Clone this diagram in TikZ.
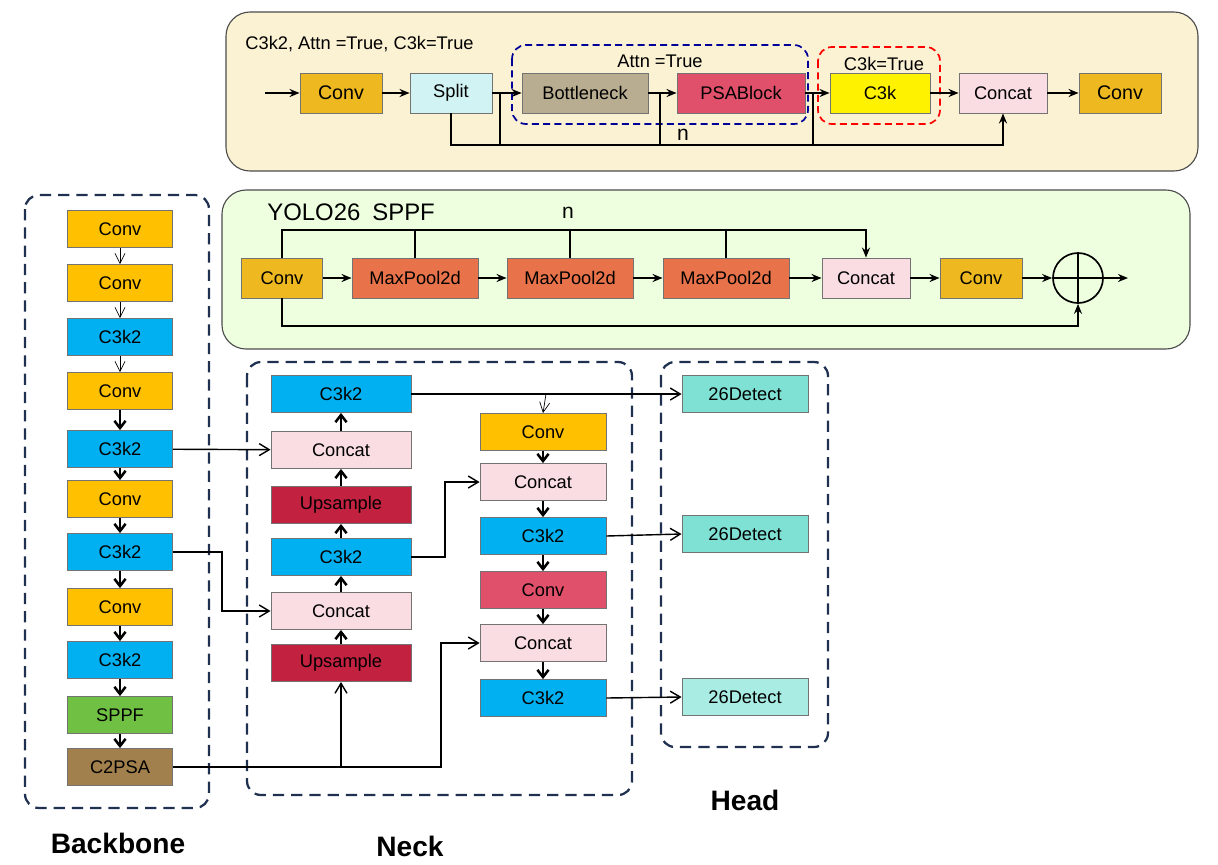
\documentclass[tikz,border=0pt]{standalone}
\usepackage{fontspec}
\setmainfont{Liberation Sans}
\usetikzlibrary{arrows.meta,positioning,calc}
\definecolor{cconv}{HTML}{FFC000}
\definecolor{cck}{HTML}{00B0F0}
\definecolor{ccat}{HTML}{F9DDE2}
\definecolor{cups}{HTML}{C32140}
\definecolor{cred}{HTML}{E0506A}
\definecolor{csppf}{HTML}{70C043}
\definecolor{cpsa}{HTML}{A2804E}
\definecolor{cdet}{HTML}{7FE0D4}
\definecolor{cdetl}{HTML}{A9ECE3}
\definecolor{cgold}{HTML}{EDB820}
\definecolor{cpool}{HTML}{E8734A}
\definecolor{cbott}{HTML}{B9AD91}
\definecolor{csplit}{HTML}{D2F3F3}
\definecolor{cdash}{HTML}{1F3050}
\begin{document}
\begin{tikzpicture}
[x=0.025cm, y=-0.025cm, font=\fontsize{13}{15}\selectfont, line width=1pt,
blk/.style={rectangle, draw=black!55, line width=0.6pt, inner sep=0pt, minimum height=0.925cm},
bb/.style={blk, minimum width=2.625cm},
nk/.style={blk, minimum width=3.5cm},
nr/.style={blk, minimum width=3.15cm},
tp/.style={blk, minimum height=1cm},
panel/.style={draw=black!70, rounded corners=0.6cm, line width=0.8pt},
group/.style={draw=cdash, dashed, line width=1.6pt, dash pattern=on 8pt off 5pt, rounded corners=0.35cm},
thin/.style={-{Straight Barb[length=2.5mm,width=2.5mm]}, line width=0.5pt},
bold/.style={-{Straight Barb[length=1.8mm,width=2.8mm,line width=1.8pt]}, line width=1.8pt},
sa/.style={-{Stealth[length=2.5mm,width=2mm]}, line width=1.2pt},
oa/.style={-{Straight Barb[length=2.5mm,width=3mm]}, line width=1pt},
title/.style={font=\fontsize{20}{24}\selectfont\bfseries}]
\useasboundingbox (0,0) rectangle (1218,864);

% C3k2 panel
\draw[panel, fill=cbott!25!cconv!20] (226,12) rectangle (1198,171);
\node[anchor=west] (c3title) at (240,44) {C3k2, Attn =True, C3k=True};
\draw[group, draw=blue!60!black, line width=1.2pt, dash pattern=on 5pt off 3pt] (512,45) rectangle (808,124);
\node (attn) at (660,61) {Attn =True};
\draw[group, draw=red, line width=1.2pt, dash pattern=on 5pt off 3pt] (818,47) rectangle (940,124);
\node (c3kt) at (884,64) {C3k=True};
\coordinate (tin) at (265,93);
\node[tp, fill=cgold, minimum width=2.05cm, font=\fontsize{14}{16}\selectfont] (tconv) at (341,93) {Conv};
\node[tp, fill=csplit, minimum width=2.05cm] (split) at (451,93) {Split};
\node[tp, fill=cbott, minimum width=3.15cm] (bott) at (585,93) {Bottleneck};
\node[tp, fill=cred, minimum width=3.2cm] (psa) at (741,93) {PSABlock};
\node[tp, fill=yellow, minimum width=2.5cm] (c3k) at (880,93) {C3k};
\node[tp, fill=ccat, minimum width=2.2cm] (tcat) at (1003,93) {Concat};
\node[tp, fill=cgold, minimum width=2.05cm, font=\fontsize{14}{16}\selectfont] (tconv2) at (1120,93) {Conv};
\draw[sa] (tin) -- (tconv);
\draw[sa] (tconv) -- (split);
\draw[sa] (split) -- (bott);
\draw[sa] (bott) -- (psa);
\draw[sa] (psa) -- (c3k);
\draw[sa] (c3k) -- (tcat);
\draw[sa] (tcat) -- (tconv2);
\draw[sa] (split.south) -- (451,145) -- (1003,145) -- (tcat.south);
\foreach \v in {500,660,813} \draw (\v,93) -- (\v,145);
\node (tn) at (683,135) {\fontsize{15}{17}\selectfont n};

% SPPF panel
\draw[panel, fill=green!40!lime!12] (222,190) rectangle (1190,349);
\node[anchor=west, font=\fontsize{17}{20}\selectfont] (sptitle) at (262,212) {YOLO26\enspace SPPF};
\node (sn) at (568,213) {\fontsize{15}{17}\selectfont n};
\node[tp, fill=cgold, minimum width=2.025cm] (sconv) at (282,278) {Conv};
\node[tp, fill=cpool, minimum width=3.15cm] (mp1) at (415,278) {MaxPool2d};
\node[tp, fill=cpool, minimum width=3.15cm] (mp2) at (570,278) {MaxPool2d};
\node[tp, fill=cpool, minimum width=3.15cm] (mp3) at (726,278) {MaxPool2d};
\node[tp, fill=ccat, minimum width=2.2cm] (scat) at (866,278) {Concat};
\node[tp, fill=cgold, minimum width=2.05cm] (sconv2) at (981,278) {Conv};
\node[circle, draw, line width=1.2pt, minimum size=1.25cm, inner sep=0pt] (plus) at (1078,278) {};
\draw[line width=1.2pt] (plus.north) -- (plus.south) (plus.west) -- (plus.east);
\coordinate (sout) at (1128,278);
\draw[sa] (sconv) -- (mp1);
\draw[sa] (mp1) -- (mp2);
\draw[sa] (mp2) -- (mp3);
\draw[sa] (mp3) -- (scat);
\draw[sa] (scat) -- (sconv2);
\draw[sa] (sconv2) -- (plus);
\draw[sa] (plus) -- (sout);
\draw[sa] (sconv.north) -- (282,230) -- (866,230) -- (scat.north);
\foreach \v in {415,570,726} \draw (\v,230) -- (\v,258);
\draw[sa] (sconv.south) -- (282,326) -- (1078,326) -- (plus.south);

% Backbone
\draw[group] (25,195) rectangle (209,808);
\node[bb, fill=cconv] (b1) at (120,229) {Conv};
\node[bb, fill=cconv] (b2) at (120,283) {Conv};
\node[bb, fill=cck] (b3) at (120,337) {C3k2};
\node[bb, fill=cconv] (b4) at (120,391) {Conv};
\node[bb, fill=cck] (b5) at (120,449) {C3k2};
\node[bb, fill=cconv] (b6) at (120,499) {Conv};
\node[bb, fill=cck] (b7) at (120,552) {C3k2};
\node[bb, fill=cconv] (b8) at (120,607) {Conv};
\node[bb, fill=cck] (b9) at (120,660) {C3k2};
\node[bb, fill=csppf] (b10) at (120,715) {SPPF};
\node[bb, fill=cpsa] (b11) at (120,767) {C2PSA};
\foreach \a/\b in {b1/b2,b2/b3,b3/b4} \draw[thin] (\a) -- (\b);
\foreach \a/\b in {b4/b5,b5/b6,b6/b7,b7/b8,b8/b9,b9/b10,b10/b11} \draw[bold] (\a) -- (\b);
\node[title] (lbb) at (118,843) {Backbone};

% Neck
\draw[group] (247,362) rectangle (632,795);
\node[nk, fill=cck] (n1) at (341,394) {C3k2};
\node[nk, fill=ccat] (n2) at (341,450) {Concat};
\node[nk, fill=cups] (n3) at (341,505) {Upsample};
\node[nk, fill=cck] (n4) at (341,557) {C3k2};
\node[nk, fill=ccat] (n5) at (341,611) {Concat};
\node[nk, fill=cups] (n6) at (341,663) {Upsample};
\node[nr, fill=cconv] (r1) at (543,432) {Conv};
\node[nr, fill=ccat] (r2) at (543,482) {Concat};
\node[nr, fill=cck] (r3) at (543,536) {C3k2};
\node[nr, fill=cred] (r4) at (543,590) {Conv};
\node[nr, fill=ccat] (r5) at (543,643) {Concat};
\node[nr, fill=cck] (r6) at (543,698) {C3k2};
\foreach \a/\b in {n6/n5,n5/n4,n4/n3,n3/n2,n2/n1,r1/r2,r2/r3,r3/r4,r4/r5,r5/r6} \draw[bold] (\a) -- (\b);
\node[title] (lneck) at (410,846) {Neck};

% Head
\draw[group] (661,362) rectangle (828,747);
\node[nr, fill=cdet] (d1) at (745,394) {26Detect};
\node[nr, fill=cdet] (d2) at (745,534) {26Detect};
\node[nr, fill=cdetl] (d3) at (745,697) {26Detect};
\node[title] (lhead) at (745,800) {Head};

% connections
\draw[oa] (b5) -- (n2);
\draw[oa] (b7.east) -- (222,552) -- (222,611) -- (n5.west);
\draw[oa] (b11.east) -- (341,767) -- (n6.south);
\draw[oa] (341,767) -- (441,767) -- (441,643) -- (r5.west);
\draw[oa] (n4.east) -- (445,557) -- (445,482) -- (r2.west);
\draw[oa] (n1.east) -- (d1.west);
\draw[thin] (546,394) -- (r1.north);
\draw[oa] (r3.east) -- (d2.west);
\draw[oa] (r6.east) -- (d3.west);
\end{tikzpicture}
\end{document}
